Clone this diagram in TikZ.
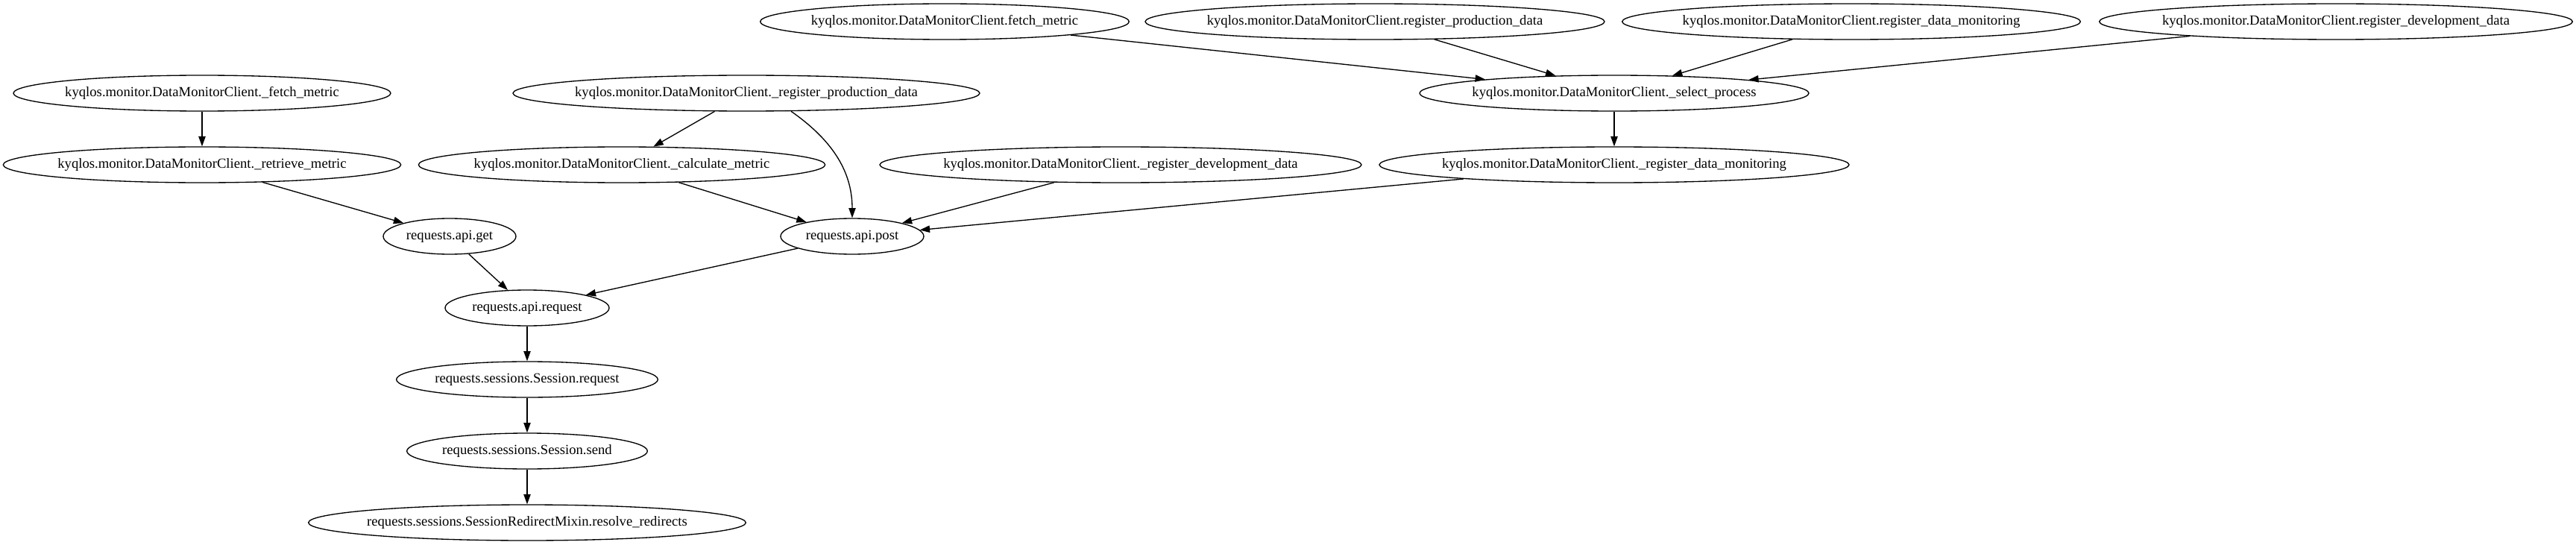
\documentclass[tikz,border=0pt]{standalone}
\usepackage{fontspec}
\setmainfont{Liberation Serif}
\usepackage{tikz}
\usetikzlibrary{shapes.geometric, arrows.meta}
\tikzstyle{method} = [ellipse, draw=black, line width=1pt, minimum height=36pt, inner xsep=-20pt, inner ysep=0pt, text centered, font=\fontsize{14pt}{16pt}\selectfont]
\tikzstyle{arrow} = [line width=1pt,->,>={Triangle[length=10pt,width=7pt]}]
\begin{document}
\begin{tikzpicture}[node distance=72pt]

			\useasboundingbox (0,0) rectangle (2591.25pt,-548.25pt);

			\node (fetchPriv) [method, minimum width=379.5pt] at (203.25pt,-93.75pt) {kyqlos.monitor.DataMonitorClient.\_fetch\_metric};
			\node (retrieve) [method, minimum width=400pt, below of=fetchPriv] {kyqlos.monitor.DataMonitorClient.\_retrieve\_metric};
			\node (apiGet) [method, minimum width=133.5pt, below of=retrieve, xshift=249pt] {requests.api.get};
			\node (apiRequest) [method, minimum width=165pt, below of=apiGet, xshift=78pt] {requests.api.request};
			\node (sessRequest) [method, minimum width=263pt, below of=apiRequest] {requests.sessions.Session.request};
			\node (sessSend) [method, minimum width=242pt, below of=sessRequest] {requests.sessions.Session.send};
			\node (resolve) [method, minimum width=440pt, below of=sessSend] {requests.sessions.SessionRedirectMixin.resolve\_redirects};

			\node (regProdPriv) [method, minimum width=469.5pt, right of=fetchPriv, xshift=475.5pt] {kyqlos.monitor.DataMonitorClient.\_register\_production\_data};
			\node (calcMetric) [method, minimum width=409pt, below of=regProdPriv, xshift=-125.25pt] {kyqlos.monitor.DataMonitorClient.\_calculate\_metric};
			\node (regDevPriv) [method, minimum width=484.5pt, below of=regProdPriv, xshift=376.5pt] {kyqlos.monitor.DataMonitorClient.\_register\_development\_data};
			\node (apiPost) [method, minimum width=144pt, below of=calcMetric, xshift=231.75pt] {requests.api.post};

			\node (fetchMetric) [method, minimum width=371pt, above of=regProdPriv, xshift=199.5pt] {kyqlos.monitor.DataMonitorClient.fetch\_metric};
			\node (regProd) [method, minimum width=462pt, right of=fetchMetric, xshift=360.75pt] {kyqlos.monitor.DataMonitorClient.register\_production\_data};
			\node (regMon) [method, minimum width=461pt, right of=regProd, xshift=407.25pt] {kyqlos.monitor.DataMonitorClient.register\_data\_monitoring};
			\node (regDev) [method, minimum width=476pt, right of=regMon, xshift=415.5pt] {kyqlos.monitor.DataMonitorClient.register\_development\_data};
			\node (selectProc) [method, minimum width=391.5pt, below of=regMon, xshift=-238.5pt] {kyqlos.monitor.DataMonitorClient.\_select\_process};
			\node (regMonPriv) [method, minimum width=472.5pt, below of=selectProc] {kyqlos.monitor.DataMonitorClient.\_register\_data\_monitoring};

			\draw [arrow] (fetchPriv) -- (retrieve);
			\draw [arrow] (retrieve) -- (apiGet);
			\draw [arrow] (apiGet) -- (apiRequest);
			\draw [arrow] (apiPost) -- (apiRequest);
			\draw [arrow] (apiRequest) -- (sessRequest);
			\draw [arrow] (sessRequest) -- (sessSend);
			\draw [arrow] (sessSend) -- (resolve);

			\draw [arrow] (regProdPriv) -- (calcMetric);
			\draw [arrow] (regProdPriv.-22) to[out=-35,in=90] (apiPost);
			\draw [arrow] (calcMetric) -- (apiPost);
			\draw [arrow] (regDevPriv) -- (apiPost);
			\draw [arrow] (regMonPriv) -- (apiPost);

			\draw [arrow] (fetchMetric) -- (selectProc);
			\draw [arrow] (regProd) -- (selectProc);
			\draw [arrow] (regMon) -- (selectProc);
			\draw [arrow] (regDev) -- (selectProc);
			\draw [arrow] (selectProc) -- (regMonPriv);

		\end{tikzpicture}
\end{document}
